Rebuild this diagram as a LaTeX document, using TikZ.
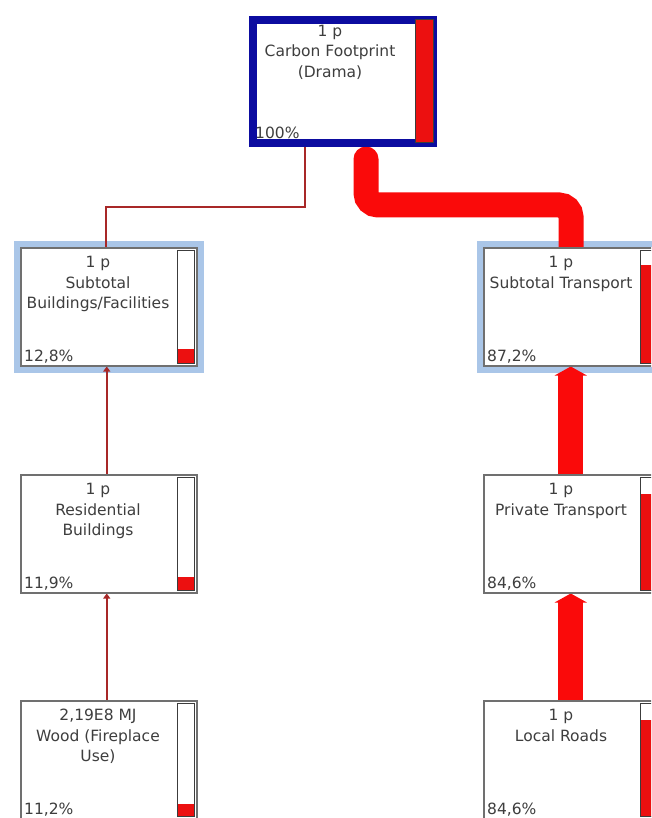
\documentclass[tikz,border=0pt]{standalone}
\usepackage{fontspec}
\setmainfont{DejaVu Sans}
\usetikzlibrary{arrows.meta,calc}
\pgfdeclarelayer{bg}
\pgfsetlayers{bg,main}

\definecolor{boxgray}{RGB}{112,112,112}
\definecolor{halo}{RGB}{170,198,232}
\definecolor{rootblue}{RGB}{12,12,160}
\definecolor{barred}{RGB}{236,16,16}
\definecolor{bardark}{RGB}{60,60,60}
\definecolor{flowred}{RGB}{250,10,10}
\definecolor{thinred}{RGB}{168,40,40}
\definecolor{txt}{RGB}{62,62,62}

\tikzset{
  procbox/.style={draw=boxgray, line width=1.5pt, fill=white, inner sep=0pt,
    minimum width=176pt, minimum height=118pt, anchor=north west},
  rootbox/.style={draw=rootblue, line width=8pt, fill=white, inner sep=0pt,
    minimum width=180pt, minimum height=123pt, anchor=north west},
  lbl/.style={text=txt, align=center, inner sep=0pt, anchor=north,
    font=\fontsize{15.5pt}{20.5pt}\selectfont},
  pct/.style={text=txt, inner sep=0pt, anchor=base west,
    font=\fontsize{15.5pt}{20.5pt}\selectfont},
  barframe/.style={draw=bardark, line width=1pt},
  haloline/.style={draw=halo, line width=6pt},
  thinflow/.style={draw=thinred, line width=2.5pt},
  thickflow/.style={draw=flowred, line width=25pt, rounded corners=12pt, line cap=round},
  thinarrow/.style={draw=thinred, line width=2.5pt, -{Triangle[width=7pt,length=5pt]}},
  thickarrow/.style={draw=flowred, line width=25pt, -{Triangle[width=32pt,length=9pt]}},
}

% level indicator at the right edge of a process box, filled from the bottom
\newcommand\fillbar[2]{%
  \fill[barred] let \p1=(#1.north east), \p2=(#1.south east) in
    (\x1-20pt,\y2+3pt) rectangle (\x1-3pt,{\y2+3pt+#2*(\y1-\y2-6pt)});
  \draw[barframe] ([xshift=-20pt,yshift=3pt]#1.south east) rectangle
    ([xshift=-3pt,yshift=-3pt]#1.north east);
}

\begin{document}
\begin{tikzpicture}[x=1pt,y=-1pt]
  \useasboundingbox (0,0) rectangle (651,818);
  \clip (0,0) rectangle (651,818);

  % root process
  \node[rootbox] (top) at (249,16) {};
  \fill[barred] ([xshift=-22pt,yshift=4pt]top.south east) rectangle ([xshift=-4pt,yshift=-4pt]top.north east);
  \draw[barframe] ([xshift=-22pt,yshift=4pt]top.south east) rectangle ([xshift=-4pt,yshift=-4pt]top.north east);
  \node[lbl] (top-t) at ([xshift=81pt,yshift=-9pt]top.north west) {1 p\\Carbon Footprint\\(Drama)};
  \node[pct] (top-p) at ([xshift=6pt,yshift=8pt]top.south west) {100\%};

  % left branch
  \node[procbox] (sb) at (20,247) {};
  \node[procbox] (res) at (20,474) {};
  \node[procbox] (wood) at (20,700) {};
  % right branch
  \node[procbox] (st) at (483,247) {};
  \node[procbox] (pt) at (483,474) {};
  \node[procbox] (lr) at (483,700) {};

  \fillbar{sb}{0.128}
  \fillbar{res}{0.119}
  \fillbar{wood}{0.112}
  \fillbar{st}{0.872}
  \fillbar{pt}{0.846}
  \fillbar{lr}{0.846}

  \node[lbl] (sb-t) at ([xshift=78pt,yshift=-9pt]sb.north west) {1 p\\Subtotal\\Buildings/Facilities};
  \node[lbl] (res-t) at ([xshift=78pt,yshift=-9pt]res.north west) {1 p\\Residential\\Buildings};
  \node[lbl] (wood-t) at ([xshift=78pt,yshift=-9pt]wood.north west) {2,19E8 MJ\\Wood (Fireplace\\Use)};
  \node[lbl] (st-t) at ([xshift=78pt,yshift=-9pt]st.north west) {1 p\\Subtotal Transport};
  \node[lbl] (pt-t) at ([xshift=78pt,yshift=-9pt]pt.north west) {1 p\\Private Transport};
  \node[lbl] (lr-t) at ([xshift=78pt,yshift=-9pt]lr.north west) {1 p\\Local Roads};

  \node[pct] (sb-p) at ([xshift=4pt,yshift=5pt]sb.south west) {12,8\%};
  \node[pct] (res-p) at ([xshift=4pt,yshift=5pt]res.south west) {11,9\%};
  \node[pct] (wood-p) at ([xshift=4pt,yshift=5pt]wood.south west) {11,2\%};
  \node[pct] (st-p) at ([xshift=4pt,yshift=5pt]st.south west) {87,2\%};
  \node[pct] (pt-p) at ([xshift=4pt,yshift=5pt]pt.south west) {84,6\%};
  \node[pct] (lr-p) at ([xshift=4pt,yshift=5pt]lr.south west) {84,6\%};

  \coordinate (bendL) at (106,207);
  \coordinate (bendR) at (571,205);

  \begin{pgfonlayer}{bg}
    % page background
    \fill[white] (0,0) rectangle (651,818);

    % highlight frames of the subtotal processes
    \draw[haloline] ([shift={(-3pt,-3pt)}]sb.south west) rectangle ([shift={(3pt,3pt)}]sb.north east);
    \draw[haloline] ([shift={(-3pt,-3pt)}]st.south west) rectangle ([shift={(3pt,3pt)}]st.north east);

    % flows into the root process
    \draw[thinflow] ([xshift=-38pt]top.south) |- (bendL) -- (bendL |- sb.north);
    \draw[thickflow] ([xshift=23pt,yshift=-12pt]top.south) |- (bendR) -- (bendR |- st.north);

    % flows up each branch
    \draw[thinarrow] ([xshift=-2pt]res.north) -- ([xshift=-2pt]sb.south);
    \draw[thinarrow] ([xshift=-2pt]wood.north) -- ([xshift=-2pt]res.south);
    \draw[thickarrow] ([xshift=-1pt]pt.north) -- ([xshift=-1pt]st.south);
    \draw[thickarrow] ([xshift=-1pt]lr.north) -- ([xshift=-1pt]pt.south);
  \end{pgfonlayer}
\end{tikzpicture}
\end{document}
